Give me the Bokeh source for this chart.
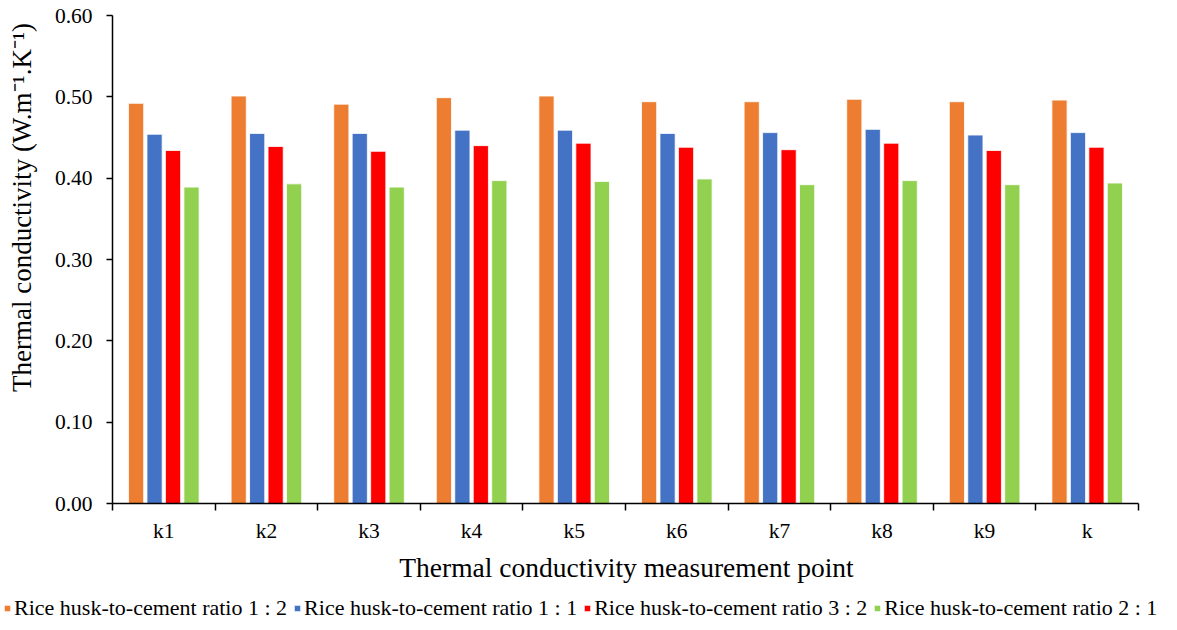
import numpy as np
from bokeh.plotting import figure
from bokeh.models import (Range1d, FixedTicker, NumeralTickFormatter, Legend, LegendItem, Label)
from bokeh.embed import file_html
from bokeh.resources import INLINE

categories = ["k1", "k2", "k3", "k4", "k5", "k6", "k7", "k8", "k9", "k"]
series_names = ["Rice husk-to-cement ratio 1 : 2", "Rice husk-to-cement ratio 1 : 1",
                "Rice husk-to-cement ratio 3 : 2", "Rice husk-to-cement ratio 2 : 1"]
ratio_1_2 = [0.492, 0.501, 0.491, 0.499, 0.501, 0.494, 0.494, 0.497, 0.494, 0.496]
ratio_1_1 = [0.454, 0.455, 0.455, 0.459, 0.459, 0.455, 0.456, 0.460, 0.453, 0.456]
ratio_3_2 = [0.434, 0.439, 0.433, 0.440, 0.443, 0.438, 0.435, 0.443, 0.434, 0.438]
ratio_2_1 = [0.389, 0.393, 0.389, 0.397, 0.396, 0.399, 0.392, 0.397, 0.392, 0.394]
y_ticks = [0.0, 0.1, 0.2, 0.3, 0.4, 0.5, 0.6]
y_max = 0.6

colors = ["#ED7D31", "#4472C4", "#FF0000", "#92D050"]
offsets = [-0.27, -0.09, 0.09, 0.27]
FONT = "Liberation Serif"

W, H = 1161, 622
# plot area in pixels (left, right, top, bottom)
PL, PR, PT, PB = 112, 1138, 15, 503
n = len(categories)
xs = (PR - PL) / n
ys = (PB - PT) / y_max
x0 = -PL / xs
x1 = x0 + W / xs
y1 = y_max + PT / ys
y0 = y1 - H / ys

p = figure(frame_width=W, frame_height=H, output_backend="svg", toolbar_location=None,
           x_range=Range1d(x0, x1), y_range=Range1d(y0, y1), min_border=0)
p.outline_line_color = None
p.xgrid.visible = False
p.ygrid.visible = False

centers = np.arange(n) + 0.5
items = []
for name, vals, col, off in zip(series_names, [ratio_1_2, ratio_1_1, ratio_3_2, ratio_2_1], colors, offsets):
    r = p.vbar(x=centers + off, top=vals, width=0.148, bottom=0, fill_color=col,
               line_color="white", line_width=0.8)
    items.append(LegendItem(label=name, renderers=[r]))

# x axis
xa = p.xaxis[0]
xa.fixed_location = 0
xa.bounds = (0, n)
xa.ticker = FixedTicker(ticks=list(centers), minor_ticks=list(range(n + 1)))
xa.major_label_overrides = {float(c): cat for c, cat in zip(centers, categories)}
xa.major_tick_line_color = None
xa.major_tick_out = 6
xa.major_tick_in = 0
xa.minor_tick_out = 7
xa.minor_tick_in = 0
xa.minor_tick_line_color = "black"
xa.minor_tick_line_width = 1.5
xa.axis_line_color = "black"
xa.axis_line_width = 1.5
xa.major_label_text_font = FONT
xa.major_label_text_font_size = "21.5px"
xa.major_label_text_color = "black"
xa.major_label_standoff = 8

# y axis
ya = p.yaxis[0]
ya.fixed_location = 0
ya.bounds = (0, y_max)
ya.ticker = FixedTicker(ticks=y_ticks, minor_ticks=[])
ya.formatter = NumeralTickFormatter(format="0.00")
ya.major_tick_out = 6
ya.major_tick_in = 0
ya.major_tick_line_width = 1.5
ya.axis_line_width = 1.5
ya.axis_line_color = "black"
ya.major_label_text_font = FONT
ya.major_label_text_font_size = "21.5px"
ya.major_label_text_color = "black"
ya.major_label_standoff = 14

xtitle = Label(x=626, y=H - 567, x_units="screen", y_units="screen",
               text="Thermal conductivity measurement point",
               text_align="center", text_baseline="middle",
               text_font=FONT, text_font_size="27.5px", text_color="black")
p.add_layout(xtitle)

ytitle = Label(x=21, y=H - 207, x_units="screen", y_units="screen",
               text="Thermal conductivity (W.m\u207b\u00b9.K\u207b\u00b9)",
               angle=np.pi / 2, text_align="center", text_baseline="middle",
               text_font=FONT, text_font_size="27px", text_color="black")
p.add_layout(ytitle)

legend = Legend(items=items, orientation="horizontal", location=(3, 1),
                glyph_width=8, glyph_height=8, label_standoff=3, spacing=6,
                padding=1, margin=0, border_line_color=None, background_fill_alpha=0,
                label_text_font="'Liberation Serif', serif", label_text_font_size="22px",
                label_text_color="black")
p.add_layout(legend, "center")

open("out.html", "w").write(file_html(p, INLINE))
